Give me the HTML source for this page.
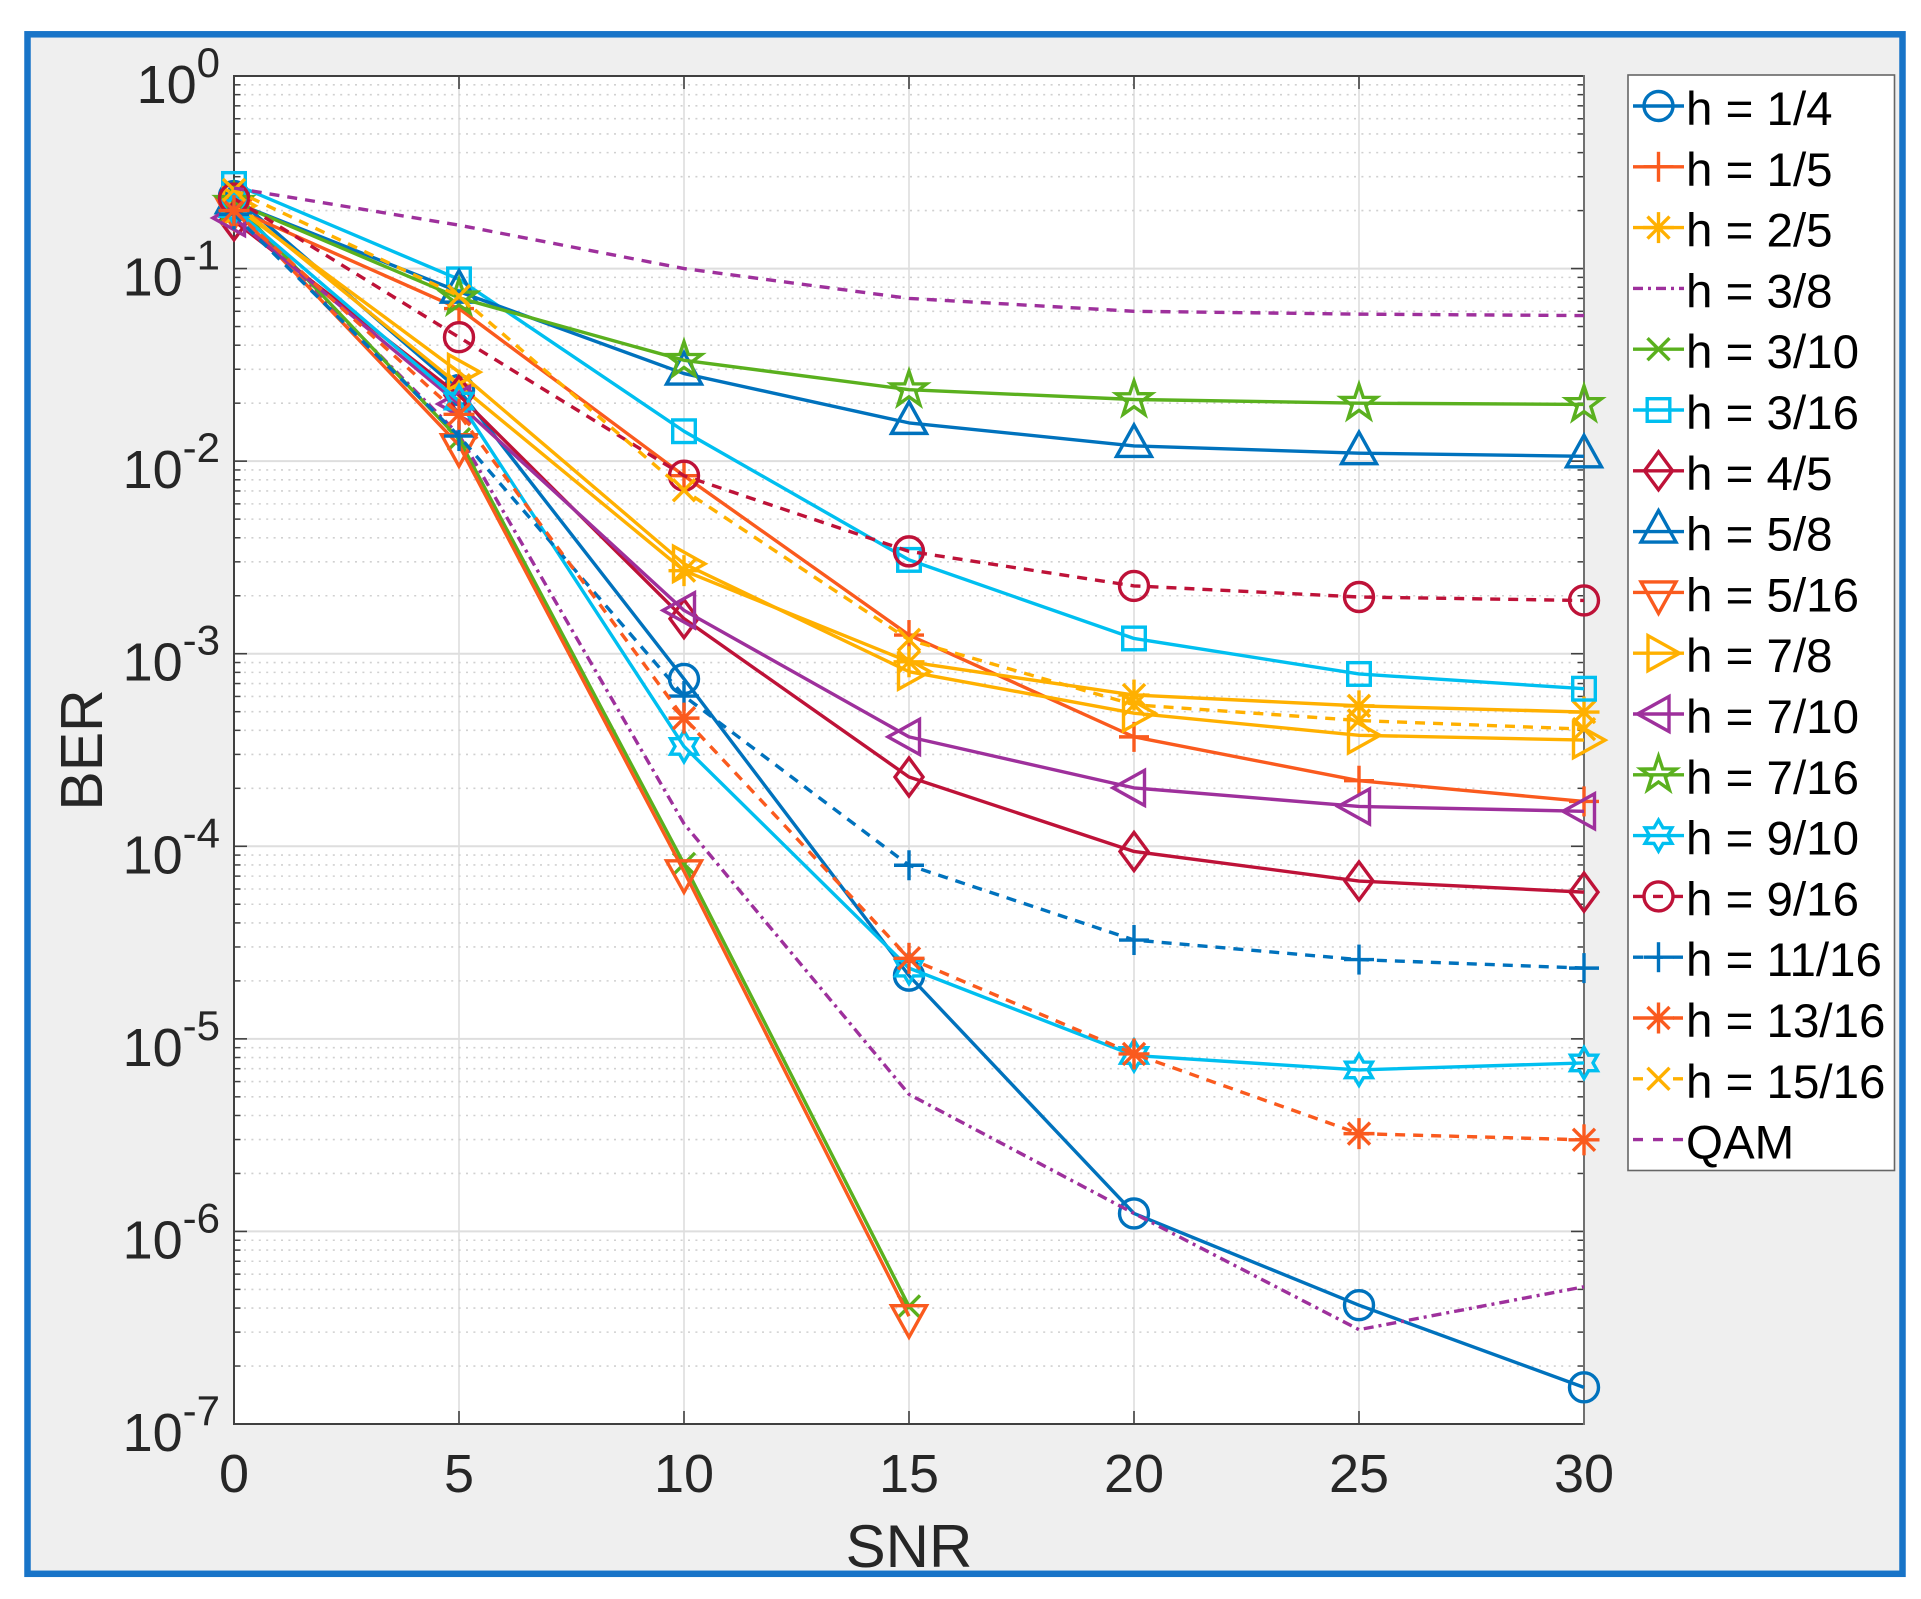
<!DOCTYPE html>
<html lang="en">
<head>
<meta charset="utf-8">
<title>BER vs SNR</title>
<style>
html,body{margin:0;padding:0;background:#fff;}
svg{display:block;font-family:"Liberation Sans",Arial,sans-serif;}
</style>
</head>
<body>
<svg id="chart" xmlns="http://www.w3.org/2000/svg" width="1921" height="1599" viewBox="0 0 1921 1599">
  <rect x="27.5" y="34.3" width="1875" height="1539.5" fill="#efefef" stroke="#1874c8" stroke-width="6.5"/>
  <rect x="234" y="76" width="1350" height="1348" fill="#ffffff"/>
  <g id="grid"></g>
  <g id="axes"></g>
  <g id="series"></g>
  <rect x="1628" y="75" width="266.5" height="1095.5" fill="#ffffff" stroke="#666666" stroke-width="1.6"/>
  <g id="legend"></g>
  <text x="909" y="1567" font-size="60" fill="#262626" text-anchor="middle">SNR</text>
  <text transform="translate(102 750) rotate(-90)" font-size="59" fill="#262626" text-anchor="middle">BER</text>
</svg>
<script>
const snrValues = [0, 5, 10, 15, 20, 25, 30];
const xTickLabels = [0, 5, 10, 15, 20, 25, 30];
const yTickExponents = [0, -1, -2, -3, -4, -5, -6, -7];

const berH1_4   = [0.238, 2.34e-2, 7.4e-4, 2.13e-5, 1.24e-6, 4.14e-7, 1.55e-7];
const berH1_5   = [0.205, 6.2e-2, 8.4e-3, 1.25e-3, 3.7e-4, 2.19e-4, 1.71e-4];
const berH2_5   = [0.221, 2.48e-2, 2.7e-3, 9.08e-4, 6.1e-4, 5.36e-4, 4.98e-4];
const berH3_8   = [0.205, 1.37e-2, 1.31e-4, 5.15e-6, 1.24e-6, 3.09e-7, 5.16e-7];
const berH3_10  = [0.221, 1.3e-2, 8.1e-5, 4.08e-7];
const berH3_16  = [0.275, 8.79e-2, 1.43e-2, 3.07e-3, 1.2e-3, 7.85e-4, 6.58e-4];
const berH4_5   = [0.177, 2.2e-2, 1.52e-3, 2.29e-4, 9.4e-5, 6.6e-5, 5.78e-5];
const berH5_8   = [0.221, 7.59e-2, 2.85e-2, 1.58e-2, 1.2e-2, 1.1e-2, 1.06e-2];
const berH5_16  = [0.205, 1.21e-2, 7.41e-5, 3.63e-7];
const berH7_8   = [0.212, 2.9e-2, 2.93e-3, 8.07e-4, 4.91e-4, 3.77e-4, 3.56e-4];
const berH7_10  = [0.183, 1.98e-2, 1.68e-3, 3.7e-4, 2.01e-4, 1.61e-4, 1.52e-4];
const berH7_16  = [0.221, 7.05e-2, 3.34e-2, 2.35e-2, 2.09e-2, 2.0e-2, 1.97e-2];
const berH9_10  = [0.205, 2.05e-2, 3.3e-4, 2.33e-5, 8.2e-6, 6.9e-6, 7.5e-6];
const berH9_16  = [0.231, 4.4e-2, 8.4e-3, 3.4e-3, 2.25e-3, 1.97e-3, 1.89e-3];
const berH11_16 = [0.191, 1.35e-2, 6.03e-4, 7.97e-5, 3.26e-5, 2.58e-5, 2.33e-5];
const berH13_16 = [0.2, 1.75e-2, 4.63e-4, 2.62e-5, 8.35e-6, 3.22e-6, 2.99e-6];
const berH15_16 = [0.256, 7.2e-2, 7.06e-3, 1.18e-3, 5.43e-4, 4.5e-4, 4.06e-4];
const berQAM    = [0.262, 0.168, 0.1, 7.0e-2, 6.0e-2, 5.8e-2, 5.7e-2];

const seriesNames = ['h = 1/4','h = 1/5','h = 2/5','h = 3/8','h = 3/10','h = 3/16','h = 4/5','h = 5/8','h = 5/16','h = 7/8','h = 7/10','h = 7/16','h = 9/10','h = 9/16','h = 11/16','h = 13/16','h = 15/16','QAM'];
const seriesValues = [berH1_4,berH1_5,berH2_5,berH3_8,berH3_10,berH3_16,berH4_5,berH5_8,berH5_16,berH7_8,berH7_10,berH7_16,berH9_10,berH9_16,berH11_16,berH13_16,berH15_16,berQAM];
const seriesColors = ['#0072bd','#fa5a1e','#ffb000','#9e309c','#5ab01e','#00bff0','#be1238','#0072bd','#fa5a1e','#ffb000','#9e309c','#5ab01e','#00bff0','#be1238','#0072bd','#fa5a1e','#ffb000','#9e309c'];
const seriesMarkers = ['circle','plus','asterisk','none','cross','square','diamond','up','down','right','left','pentagram','hexagram','circle','plus','asterisk','cross','none'];
const seriesStyles = ['solid','solid','solid','dashdot','solid','solid','solid','solid','solid','solid','solid','solid','solid','dashed','dashed','dashed','dashed','dashed'];

const NS = 'http://www.w3.org/2000/svg';
const PLOT = {left:234, right:1584, top:76, bottom:1424};
const xMax = 30, decades = 7;
const LW = 3.4;

function xScale(v){ return PLOT.left + v / xMax * (PLOT.right - PLOT.left); }
function yScale(v){ return PLOT.top + (-Math.log10(v)) / decades * (PLOT.bottom - PLOT.top); }
function dashFor(style){
  if (style === 'dashed') return '10 8';
  if (style === 'dashdot') return '10 5 3 5';
  return 'none';
}
function make(tag, parent){
  const el = document.createElementNS(NS, tag);
  parent.appendChild(el);
  return el;
}
function slug(name){ return name.toLowerCase().replace(/[^a-z0-9]+/g, '-').replace(/^-|-$/g, ''); }
function line(parent, x1, y1, x2, y2, color, width, dash){
  const el = make('line', parent);
  el.setAttribute('x1', x1);
  el.setAttribute('y1', y1);
  el.setAttribute('x2', x2);
  el.setAttribute('y2', y2);
  el.setAttribute('stroke', color);
  el.setAttribute('stroke-width', width);
  if (dash) el.setAttribute('stroke-dasharray', dash);
  return el;
}
function polyPoints(cx, cy, radii, count, startDeg){
  const pts = [];
  for (let i = 0; i < count; i++) {
    const a = (startDeg + i * 360 / count) * Math.PI / 180;
    const r = radii[i % radii.length];
    pts.push((cx + r * Math.cos(a)).toFixed(2) + ',' + (cy + r * Math.sin(a)).toFixed(2));
  }
  return pts.join(' ');
}
function drawMarker(parent, kind, cx, cy, color, label){
  if (kind === 'none') return;
  const g = make('g', parent);
  
  
  g.setAttribute('fill', 'none');
  g.setAttribute('stroke', color);
  g.setAttribute('stroke-width', LW);
  if (kind === 'circle') {
    const c = make('circle', g);
    c.setAttribute('cx', cx);
    c.setAttribute('cy', cy);
    c.setAttribute('r', 14.5);
  } else if (kind === 'square') {
    const r = make('rect', g);
    r.setAttribute('x', cx - 11.3);
    r.setAttribute('y', cy - 11.3);
    r.setAttribute('width', 22.6);
    r.setAttribute('height', 22.6);
  } else if (kind === 'plus') {
    line(g, cx - 15, cy, cx + 15, cy, color, LW);
    line(g, cx, cy - 15, cx, cy + 15, color, LW);
  } else if (kind === 'cross') {
    line(g, cx - 11, cy - 11, cx + 11, cy + 11, color, LW);
    line(g, cx - 11, cy + 11, cx + 11, cy - 11, color, LW);
  } else if (kind === 'asterisk') {
    line(g, cx - 15.5, cy, cx + 15.5, cy, color, LW);
    line(g, cx, cy - 15.5, cx, cy + 15.5, color, LW);
    line(g, cx - 11, cy - 11, cx + 11, cy + 11, color, LW);
    line(g, cx - 11, cy + 11, cx + 11, cy - 11, color, LW);
  } else {
    const p = make('polygon', g);
    let pts = '';
    if (kind === 'diamond') pts = [cx, cy - 19, cx + 14, cy, cx, cy + 19, cx - 14, cy].join(' ');
    if (kind === 'up') pts = [cx, cy - 21, cx + 17.5, cy + 10.5, cx - 17.5, cy + 10.5].join(' ');
    if (kind === 'down') pts = [cx, cy + 21, cx + 17.5, cy - 10.5, cx - 17.5, cy - 10.5].join(' ');
    if (kind === 'right') pts = [cx + 21, cy, cx - 10.5, cy - 17.5, cx - 10.5, cy + 17.5].join(' ');
    if (kind === 'left') pts = [cx - 21, cy, cx + 10.5, cy - 17.5, cx + 10.5, cy + 17.5].join(' ');
    if (kind === 'pentagram') pts = polyPoints(cx, cy, [18.5, 7.2], 10, -90);
    if (kind === 'hexagram') pts = polyPoints(cx, cy, [15.5, 9], 12, -90);
    p.setAttribute('points', pts);
  }
}

/* grid */
const gridG = document.getElementById('grid');
const axesG = document.getElementById('axes');
xTickLabels.forEach(function(t){
  const gx = line(gridG, xScale(t), PLOT.top, xScale(t), PLOT.bottom, '#dedede', 1.6);
  
  
});
yTickExponents.forEach(function(e){
  const v = Math.pow(10, e);
  const gy = line(gridG, PLOT.left, yScale(v), PLOT.right, yScale(v), '#dedede', 2);
  
  
  if (e > -7) {
    for (let m = 2; m <= 9; m++) {
      const mv = v / 10 * m;
      const my = yScale(mv);
      const gm = line(gridG, PLOT.left + 10, my, PLOT.right - 10, my, '#d0d0d0', 1.6, '2 5.4');
      
      
      const t1 = line(axesG, PLOT.left, my, PLOT.left + 6.5, my, '#404040', 1.5);
      
      
      const t2 = line(axesG, PLOT.right - 6.5, my, PLOT.right, my, '#404040', 1.5);
      
      
    }
  }
});

/* axes frame, ticks and labels */
const borderLines = [
  [PLOT.left, PLOT.top, PLOT.right, PLOT.top],
  [PLOT.left, PLOT.bottom, PLOT.right, PLOT.bottom],
  [PLOT.left, PLOT.top, PLOT.left, PLOT.bottom],
  [PLOT.right, PLOT.top, PLOT.right, PLOT.bottom]
];
xTickLabels.forEach(function(t){
  const x = xScale(t);
  const a = line(axesG, x, PLOT.top, x, PLOT.top + 13, '#404040', 1.6);
  
  
  const b = line(axesG, x, PLOT.bottom - 13, x, PLOT.bottom, '#404040', 1.6);
  
  
  const txt = make('text', axesG);
  
  
  txt.setAttribute('x', x);
  txt.setAttribute('y', 1492);
  txt.setAttribute('font-size', '54');
  txt.setAttribute('fill', '#262626');
  txt.setAttribute('text-anchor', 'middle');
  txt.textContent = t;
});
yTickExponents.forEach(function(e){
  const y = yScale(Math.pow(10, e));
  const a = line(axesG, PLOT.left, y, PLOT.left + 13, y, '#404040', 1.6);
  
  
  const b = line(axesG, PLOT.right - 13, y, PLOT.right, y, '#404040', 1.6);
  
  
  const txt = make('text', axesG);
  
  
  txt.setAttribute('x', 220);
  txt.setAttribute('y', y + 27);
  txt.setAttribute('font-size', '54');
  txt.setAttribute('fill', '#262626');
  txt.setAttribute('text-anchor', 'end');
  const base = make('tspan', txt);
  base.textContent = '10';
  const sup = make('tspan', txt);
  sup.setAttribute('dy', '-26');
  sup.setAttribute('font-size', '42');
  sup.textContent = String(e);
});
borderLines.forEach(function(b, i){
  const el = line(axesG, b[0], b[1], b[2], b[3], i === 3 ? '#707070' : '#404040', 2);
  
  
  el.setAttribute('stroke-linecap', 'square');
});

/* series */
const seriesG = document.getElementById('series');
seriesNames.forEach(function(name, i){
  const vals = seriesValues[i];
  const g = make('g', seriesG);
  
  
  const pl = make('polyline', g);
  
  
  pl.setAttribute('fill', 'none');
  pl.setAttribute('stroke', seriesColors[i]);
  pl.setAttribute('stroke-width', LW);
  pl.setAttribute('stroke-linejoin', 'round');
  pl.setAttribute('stroke-dasharray', dashFor(seriesStyles[i]));
  pl.setAttribute('points', vals.map(function(v, k){
    return xScale(snrValues[k]).toFixed(2) + ',' + yScale(v).toFixed(2);
  }).join(' '));
  vals.forEach(function(v, k){
    drawMarker(g, seriesMarkers[i], xScale(snrValues[k]), yScale(v), seriesColors[i], slug(name));
  });
});

/* legend */
const legendG = document.getElementById('legend');
seriesNames.forEach(function(name, i){
  const y = 106 + i * 60.8;
  const g = make('g', legendG);
  
  
  let dash = null;
  if (seriesStyles[i] === 'dashed') dash = seriesMarkers[i] === 'cross' ? '10 30' : '10 10';
  if (seriesStyles[i] === 'dashdot') dash = '10 5 3 5';
  const l = line(g, 1633, y, 1684, y, seriesColors[i], LW, dash);
  
  
  drawMarker(g, seriesMarkers[i], 1658.5, y, seriesColors[i], 'legend');
  const t = make('text', g);
  
  
  t.setAttribute('x', 1686);
  t.setAttribute('y', y + 19);
  t.setAttribute('font-size', '47.5');
  t.setAttribute('fill', '#000000');
  t.textContent = name;
});
</script>
</body>
</html>
